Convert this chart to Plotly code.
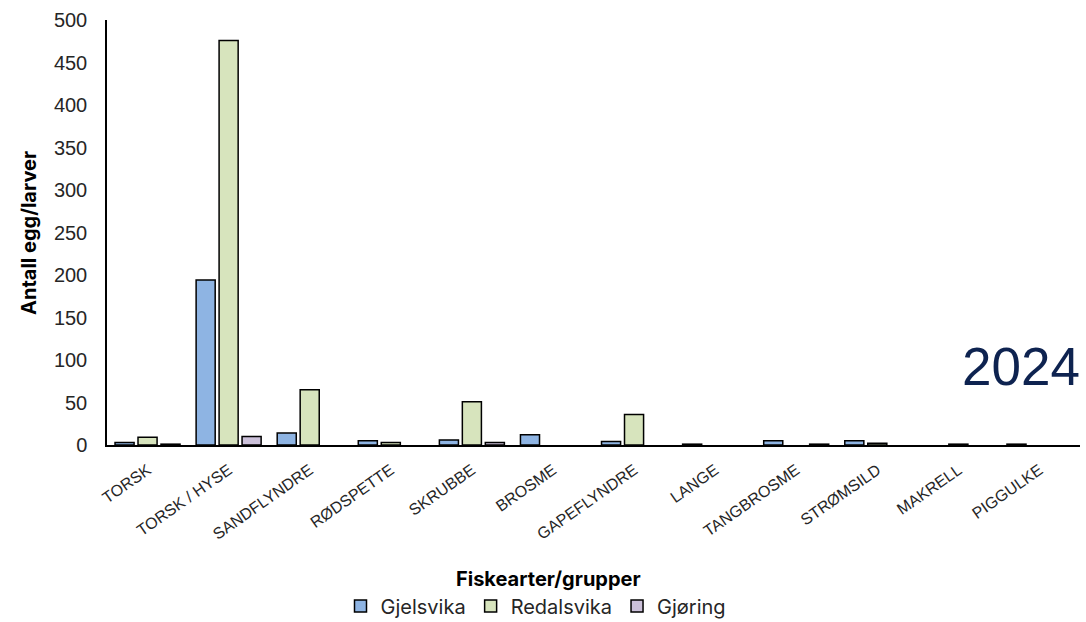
import plotly.graph_objects as go

categories = ["TORSK", "TORSK / HYSE", "SANDFLYNDRE", "RØDSPETTE", "SKRUBBE", "BROSME",
              "GAPEFLYNDRE", "LANGE", "TANGBROSME", "STRØMSILD", "MAKRELL", "PIGGULKE"]
gjelsvika = [3, 194, 14, 5, 6, 12, 4, 1, 5, 5, 0, 1]
redalsvika = [9, 476, 65, 3, 51, 0, 36, 0, 0, 2, 1, 0]
gjoring = [1, 10, 0, 0, 3, 0, 0, 0, 1, 0, 0, 0]

series = [
    ("Gjelsvika", gjelsvika, "#8eb4e3"),
    ("Redalsvika", redalsvika, "#d7e4bd"),
    ("Gjøring", gjoring, "#ccc1da"),
]

fig = go.Figure()
for name, vals, color in series:
    # empty bars get no outline so nothing is drawn on the baseline
    widths = [1.5 if v else 0 for v in vals]
    fig.add_trace(go.Bar(
        x=categories, y=vals, name=name,
        marker=dict(color=color, line=dict(color="#000000", width=widths)),
    ))

W, H = 1086, 622
L, R, T, B = 107, 6, 20, 177
plot_w = W - L - R
plot_h = H - T - B

def py(p):
    return (H - B - p) / plot_h

def px(p):
    return (p - L) / plot_w

TITLE_FONT = "Inter, Liberation Sans, Arial, sans-serif"

fig.update_layout(
    width=W, height=H,
    margin=dict(l=L, r=R, t=T, b=B, autoexpand=False),
    paper_bgcolor="white", plot_bgcolor="white",
    barmode="group", bargap=0.15, bargroupgap=0.17,
    font=dict(family="Liberation Sans, Arial, sans-serif", color="#262626"),
    showlegend=True,
    legend=dict(orientation="h", x=px(536), xanchor="center", y=py(606), yanchor="middle",
                font=dict(family=TITLE_FONT, size=20, color="#262626"),
                itemwidth=30, tracegroupgap=0),
    xaxis=dict(
        showline=True, linecolor="#000000", linewidth=1.5, automargin=False,
        tickangle=-35, tickfont=dict(size=16, color="#262626"),
        ticks="outside", ticklen=8, tickcolor="rgba(0,0,0,0)", showgrid=False,
    ),
    yaxis=dict(
        range=[0, 500], dtick=50, showline=True, linecolor="#000000", linewidth=1.5,
        automargin=False, tickfont=dict(size=20, color="#262626"),
        ticks="outside", ticklen=14, tickcolor="rgba(0,0,0,0)", showgrid=False,
        zeroline=False,
    ),
    annotations=[
        dict(text="<b>Antall egg/larver</b>", xref="paper", yref="paper",
             x=px(29), y=py(233), xanchor="center", yanchor="middle", textangle=-90,
             showarrow=False, font=dict(family=TITLE_FONT, size=20, color="#000000")),
        dict(text="<b>Fiskearter/grupper</b>", xref="paper", yref="paper",
             x=px(548), y=py(579), xanchor="center", yanchor="middle",
             showarrow=False, font=dict(family=TITLE_FONT, size=20, color="#000000")),
        dict(text="2024", xref="paper", yref="paper",
             x=px(1082), y=py(366), xanchor="right", yanchor="middle",
             showarrow=False, font=dict(size=53, color="#0e2350")),
    ],
)

fig.write_html("out.html")
